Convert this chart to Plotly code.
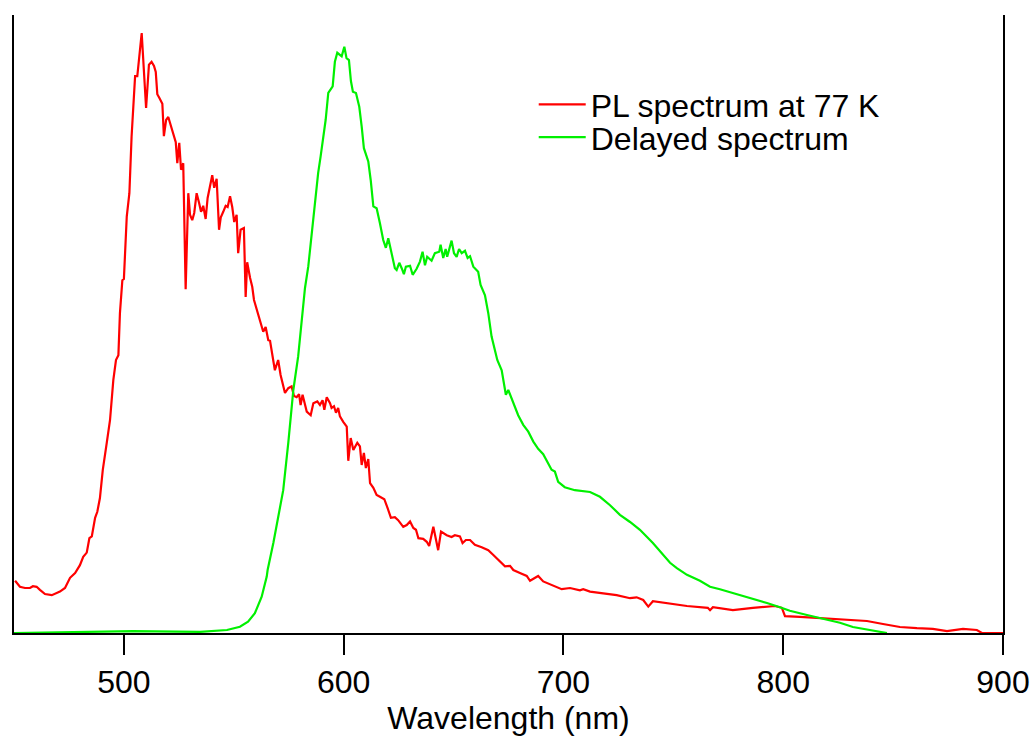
import plotly.graph_objects as go

# PL spectrum at 77 K (wavelength nm, normalized intensity)
pl_wl = [450.5, 452.7, 455.0, 457.3, 458.6, 460.3, 461.8, 464.1, 467.2, 469.4, 470.9, 473.2, 475.5, 477.8,
         480.0, 481.5, 483.1, 484.3, 485.4, 486.9, 487.9, 489.1, 490.4, 492.2, 493.7, 495.2, 496.4, 497.5,
         498.2, 499.3, 500.0, 501.3, 502.5, 503.5, 504.3, 505.1, 506.1, 508.1, 510.1, 511.4, 512.6, 513.7,
         514.5, 515.2, 516.1, 517.5, 518.2, 519.2, 520.2, 521.3, 522.5, 523.6, 524.3, 525.2, 526.0, 527.0,
         528.1, 529.3, 530.1, 531.1, 532.0, 533.1, 534.2, 535.1, 536.1, 537.2, 538.1, 539.2, 540.2, 541.1,
         542.2, 543.3, 544.1, 545.2, 546.3, 547.2, 548.3, 549.3, 550.2, 551.3, 552.0, 553.1, 554.6, 555.4,
         556.1, 557.4, 558.4, 559.2, 561.9, 563.4, 564.5, 565.7, 566.5, 567.5, 568.7, 570.2, 571.3, 573.3,
         574.8, 576.3, 577.4, 578.6, 579.7, 580.4, 581.3, 583.2, 585.0, 586.2, 588.0, 589.2, 590.4, 591.2,
         592.3, 593.8, 594.5, 595.6, 596.5, 597.5, 598.3, 599.8, 601.4, 602.1, 603.2, 604.4, 606.2, 607.4,
         608.2, 609.2, 610.1, 611.2, 612.0, 613.5, 615.0, 616.5, 618.5, 620.0, 621.5, 623.3, 624.8, 627.1,
         628.7, 630.2, 631.7, 632.9, 634.0, 636.2, 637.8, 638.9, 640.8, 643.0, 644.3, 646.9, 649.1, 650.6,
         652.9, 654.1, 655.6, 657.5, 659.7, 662.8, 665.8, 668.1, 671.1, 673.4, 675.7, 677.2, 680.2, 683.3,
         684.8, 688.5, 690.8, 694.6, 696.9, 699.2, 703.0, 707.5, 709.0, 712.1, 718.1, 724.2, 730.3, 733.3,
         736.3, 738.6, 740.7, 747.1, 756.2, 765.7, 766.7, 768.0, 777.1, 786.2, 796.2, 799.4, 800.8, 807.6,
         822.6, 838.1, 845.4, 853.1, 860.8, 868.1, 874.5, 881.8, 888.1, 890.4, 900.0]
pl_int = [8.7, 7.7, 7.5, 7.5, 7.8, 7.7, 7.2, 6.5, 6.3, 6.7, 6.9, 7.5, 9.2, 10.0,
          11.3, 12.7, 13.4, 15.8, 16.1, 19.2, 20.2, 22.5, 27.2, 31.7, 35.5, 42.2, 45.5, 46.3,
          53.3, 58.8, 59.0, 69.4, 73.3, 82.7, 87.7, 92.8, 92.8, 100.0, 87.5, 94.7, 95.2, 94.5,
          93.5, 89.8, 89.2, 88.2, 82.8, 85.5, 86.0, 84.7, 83.3, 81.8, 78.3, 81.7, 77.2, 78.3,
          57.3, 73.3, 69.7, 68.8, 70.0, 73.3, 71.7, 70.2, 71.2, 69.0, 72.5, 74.7, 76.3, 74.2,
          75.7, 67.2, 69.3, 70.2, 71.2, 71.0, 72.8, 71.0, 68.5, 69.7, 63.3, 67.2, 67.5, 56.0,
          61.8, 59.2, 57.7, 55.5, 52.2, 50.2, 51.0, 48.8, 48.7, 46.1, 43.8, 45.5, 43.0, 40.0,
          40.8, 41.1, 39.5, 39.3, 39.8, 38.0, 39.7, 36.9, 36.3, 38.3, 38.6, 38.0, 38.8, 37.2,
          39.3, 38.3, 37.5, 37.8, 36.7, 37.5, 36.1, 35.2, 34.4, 28.7, 32.5, 30.5, 31.7, 31.1,
          28.0, 30.0, 27.5, 29.0, 25.0, 24.2, 23.0, 22.7, 22.3, 20.8, 19.2, 19.3, 18.8, 17.7,
          18.0, 18.6, 17.5, 17.2, 15.8, 15.7, 15.2, 14.5, 17.7, 13.8, 16.9, 16.3, 16.0, 16.3,
          16.1, 15.0, 15.5, 15.5, 14.7, 14.3, 13.8, 13.0, 11.9, 11.1, 11.2, 10.5, 10.0, 9.5,
          8.7, 9.5, 8.6, 8.0, 7.7, 7.3, 7.5, 7.1, 7.3, 6.9, 6.6, 6.3, 5.8, 5.95,
          5.5, 4.4, 5.3, 5.0, 4.5, 4.2, 3.8, 4.3, 3.8, 4.2, 4.5, 4.2, 2.8, 2.7,
          2.3, 2.0, 1.5, 1.0, 0.8, 0.7, 0.3, 0.7, 0.5, 0.0, 0.0]

# Delayed spectrum
dl_wl = [450.0, 504.1, 534.6, 546.9, 552.8, 556.5, 559.6, 562.7, 565.0, 565.4, 568.0, 570.2, 572.5, 574.8,
         577.1, 579.3, 580.9, 582.4, 583.9, 585.0, 586.2, 587.5, 588.4, 589.5, 590.7, 591.8, 593.0, 595.0,
         596.0, 597.1, 599.1, 600.3, 601.3, 602.4, 603.3, 604.2, 605.6, 607.1, 608.2, 609.2, 611.2, 612.3,
         613.5, 615.0, 616.5, 618.0, 619.2, 620.3, 621.5, 623.3, 624.1, 625.3, 626.4, 627.4, 628.3, 630.2,
         631.4, 633.2, 634.7, 635.9, 637.0, 638.0, 640.0, 641.5, 643.5, 644.1, 645.3, 646.4, 647.1, 649.1,
         650.2, 651.4, 652.5, 653.7, 655.2, 656.4, 657.5, 659.0, 661.2, 662.3, 664.3, 665.8, 667.3, 668.8,
         669.9, 671.9, 673.8, 674.9, 677.2, 679.4, 681.7, 684.0, 686.3, 688.5, 690.8, 693.1, 694.6, 696.1,
         697.6, 700.6, 705.2, 712.1, 716.6, 721.2, 725.7, 730.3, 734.8, 740.7, 745.3, 748.5, 751.6, 756.2,
         762.1, 766.7, 771.2, 777.1, 784.9, 792.6, 798.5, 803.0, 810.8, 819.9, 825.8, 831.7, 839.5, 847.2]
dl_int = [0.0, 0.3, 0.2, 0.5, 1.05, 1.9, 3.3, 6.05, 9.4, 10.5, 15.0, 19.4, 23.8, 31.7,
          40.5, 46.1, 52.2, 57.5, 61.1, 65.0, 70.0, 74.7, 76.7, 79.4, 82.5, 85.5, 90.0, 91.1,
          95.2, 96.7, 96.1, 97.7, 95.8, 95.5, 92.0, 90.2, 90.0, 87.7, 84.4, 80.8, 78.6, 75.5,
          71.1, 70.8, 68.3, 65.5, 64.2, 65.8, 63.8, 60.8, 60.5, 61.7, 60.8, 59.8, 61.05, 61.2,
          59.7, 60.7, 61.9, 63.55, 61.3, 62.7, 62.05, 63.3, 63.55, 64.7, 62.5, 64.0, 62.7, 65.4,
          63.3, 62.7, 64.0, 63.3, 63.7, 62.5, 62.8, 61.05, 60.2, 58.0, 56.3, 53.3, 49.4, 47.2,
          45.5, 43.8, 39.7, 40.5, 38.3, 36.3, 34.7, 33.55, 31.9, 30.7, 29.8, 28.3, 27.2, 26.9,
          25.2, 24.3, 23.8, 23.5, 22.7, 21.3, 19.7, 18.5, 17.2, 15.0, 13.0, 11.7, 10.8, 9.7,
          8.7, 7.7, 7.3, 6.7, 5.8, 5.0, 4.3, 3.7, 3.0, 2.2, 1.7, 1.0, 0.5, 0.0]

x_ticks = [500, 600, 700, 800, 900]

FONT = "Liberation Sans, Arial, Helvetica, sans-serif"

fig = go.Figure()
fig.add_trace(go.Scatter(x=pl_wl, y=pl_int, mode="lines", name="PL spectrum at 77 K",
                         line=dict(color="#FF0000", width=2.2), legend="legend"))
fig.add_trace(go.Scatter(x=dl_wl, y=dl_int, mode="lines", name="Delayed spectrum",
                         line=dict(color="#00F000", width=2.2), legend="legend2"))

leg_common = dict(xanchor="left", yanchor="middle", bgcolor="rgba(0,0,0,0)", borderwidth=0,
                  font=dict(size=32), itemwidth=47)

fig.update_layout(
    width=1034, height=737,
    margin=dict(l=14, r=31, t=15, b=104),
    paper_bgcolor="white", plot_bgcolor="white",
    font=dict(family=FONT, size=32, color="black"),
    showlegend=True,
    legend=dict(x=0.5255, y=0.8552, **leg_common),
    legend2=dict(x=0.5255, y=0.8021, **leg_common),
)
fig.update_xaxes(range=[450, 900], tickvals=x_ticks, ticktext=[str(t) for t in x_ticks],
                 showline=True, linecolor="black", linewidth=2, mirror=False,
                 ticks="outside", ticklen=20, tickwidth=2, tickcolor="black",
                 showgrid=False, zeroline=False, automargin=False,
                 title=dict(text="Wavelength (nm)", standoff=6, font=dict(size=32)))
fig.update_yaxes(range=[0, 103], showline=True, linecolor="black", linewidth=2, mirror=True,
                 showticklabels=False, ticks="", showgrid=False, zeroline=False, automargin=False)

fig.write_html("out.html")
